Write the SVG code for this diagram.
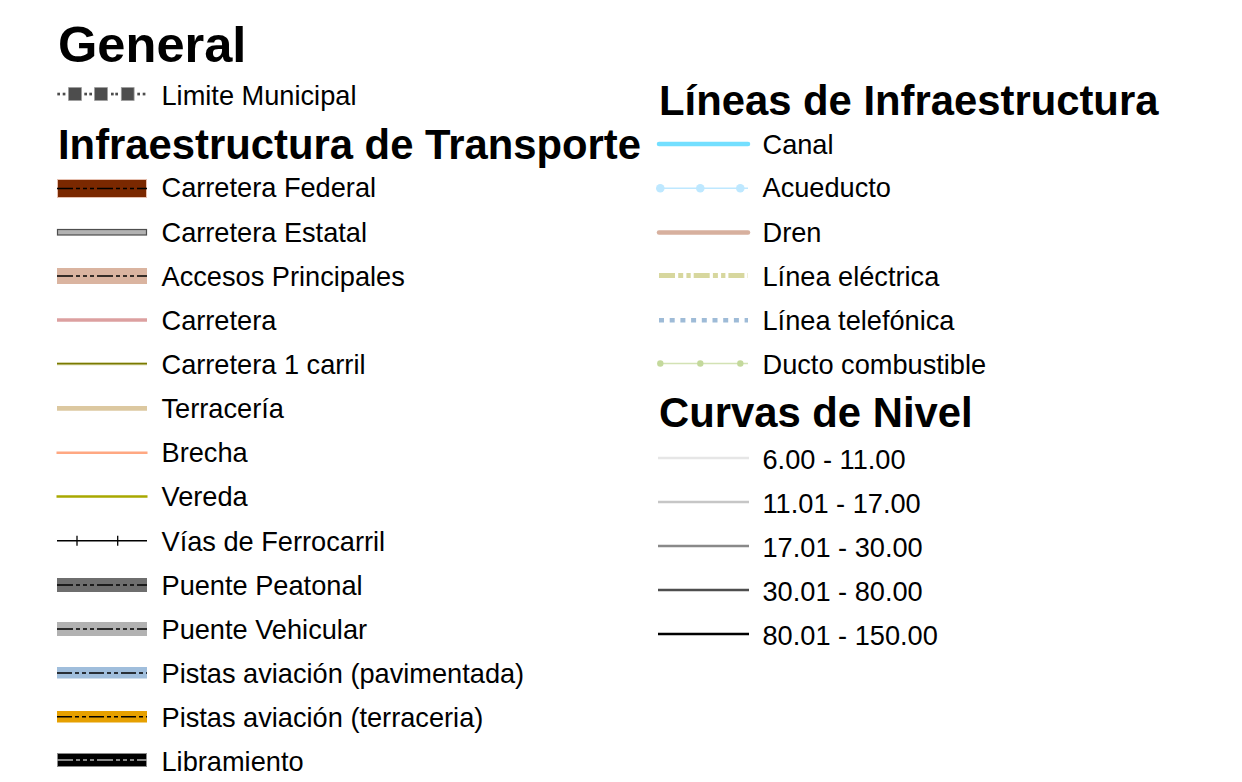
<svg xmlns="http://www.w3.org/2000/svg" width="1242" height="782" viewBox="0 0 1242 782">
<style>
text{font-family:"Liberation Sans",Arial,Helvetica,sans-serif;fill:#000}
.h{font-weight:bold;font-size:41.8px}
.g{font-weight:bold;font-size:50.6px}
.t{font-size:27.2px}
.dash{stroke:#000;stroke-width:1.6;stroke-dasharray:16 3 4 3 4 3 4 3;fill:none}
.dashp{stroke:#000;stroke-width:1.6;stroke-dasharray:15 3 4 3 4 3;fill:none}
</style>
<rect width="1242" height="782" fill="#fff"/>
<text class="g" x="58" y="62">General</text>
<g id="limite-municipal">
<g fill="#4d4d4d">
<rect x="57.3" y="92.7" width="2.7" height="2.7"/><rect x="62.7" y="92.7" width="2.7" height="2.7"/>
<rect x="84.3" y="92.7" width="2.7" height="2.7"/><rect x="89.3" y="92.7" width="2.7" height="2.7"/>
<rect x="111" y="92.7" width="2.7" height="2.7"/><rect x="115.3" y="92.7" width="2.7" height="2.7"/>
<rect x="137.3" y="92.7" width="2.7" height="2.7"/><rect x="142.7" y="92.7" width="2.7" height="2.7"/>
</g>
<g fill="#4d4d4d" stroke="#9a9a9a" stroke-width="0.8">
<rect x="68.6" y="87.6" width="12.8" height="12.8"/>
<rect x="94.6" y="87.6" width="12.8" height="12.8"/>
<rect x="121.3" y="87.6" width="12.8" height="12.8"/>
</g>
<text class="t" x="161.5" y="105">Limite Municipal</text>
</g>
<text class="h" x="58" y="159">Infraestructura de Transporte</text>
<g id="carretera-federal">
<rect x="57.5" y="179.5" width="89" height="18" fill="#7a2800" stroke="#e6c0b0" stroke-width="1"/>
<line class="dash" x1="57" y1="188.5" x2="147" y2="188.5"/>
<text class="t" x="161.5" y="197">Carretera Federal</text>
</g>
<g id="carretera-estatal">
<rect x="57.5" y="229.5" width="89" height="5.5" fill="#b2b2b2" stroke="#4e4e4e" stroke-width="1.2"/>
<text class="t" x="161.5" y="242">Carretera Estatal</text>
</g>
<g id="accesos-principales">
<rect x="57" y="268" width="90" height="16" fill="#dab4a0"/>
<line class="dash" x1="57" y1="276" x2="147" y2="276"/>
<text class="t" x="161.5" y="286">Accesos Principales</text>
</g>
<g id="carretera">
<line x1="57" y1="320" x2="147" y2="320" stroke="#dca0a0" stroke-width="3.6"/>
<text class="t" x="161.5" y="330">Carretera</text>
</g>
<g id="carretera-1-carril">
<line x1="57" y1="364" x2="147" y2="364" stroke="#e8e8c8" stroke-width="3"/>
<line x1="57" y1="363.7" x2="147" y2="363.7" stroke="#7a7a00" stroke-width="1.8"/>
<text class="t" x="161.5" y="374">Carretera 1 carril</text>
</g>
<g id="terraceria">
<line x1="57" y1="408.3" x2="147" y2="408.3" stroke="#dcc8a0" stroke-width="4.8"/>
<text class="t" x="161.5" y="418">Terracería</text>
</g>
<g id="brecha">
<line x1="56.5" y1="452.7" x2="147.5" y2="452.7" stroke="#ffa882" stroke-width="2.4"/>
<text class="t" x="161.5" y="462">Brecha</text>
</g>
<g id="vereda">
<line x1="56.5" y1="496.5" x2="147.5" y2="496.5" stroke="#a8a800" stroke-width="2.4"/>
<text class="t" x="161.5" y="506">Vereda</text>
</g>
<g id="vias-ferrocarril">
<line x1="57" y1="540.7" x2="147" y2="540.7" stroke="#000" stroke-width="1.5"/>
<line x1="77" y1="535.7" x2="77" y2="545.7" stroke="#000" stroke-width="1.3"/>
<line x1="117.7" y1="535.7" x2="117.7" y2="545.7" stroke="#000" stroke-width="1.3"/>
<text class="t" x="161.5" y="551">Vías de Ferrocarril</text>
</g>
<g id="puente-peatonal">
<rect x="57" y="578" width="90" height="14" fill="#6e6e6e"/>
<line class="dash" x1="57" y1="585" x2="147" y2="585"/>
<text class="t" x="161.5" y="595">Puente Peatonal</text>
</g>
<g id="puente-vehicular">
<rect x="57" y="622" width="90" height="14" fill="#b2b2b2"/>
<line class="dash" x1="57" y1="629" x2="147" y2="629"/>
<text class="t" x="161.5" y="639">Puente Vehicular</text>
</g>
<g id="pistas-pavimentada">
<rect x="57" y="667" width="90" height="11.5" fill="#a0bedc"/>
<line class="dashp" x1="57" y1="673" x2="147" y2="673"/>
<text class="t" x="161.5" y="683">Pistas aviación (pavimentada)</text>
</g>
<g id="pistas-terraceria">
<rect x="57" y="711" width="90" height="11.5" fill="#e6a000"/>
<line class="dashp" x1="57" y1="716.7" x2="147" y2="716.7"/>
<text class="t" x="161.5" y="727">Pistas aviación (terraceria)</text>
</g>
<g id="libramiento">
<rect x="57.5" y="753.5" width="89" height="13" fill="#000" stroke="#8a8a8a" stroke-width="1"/>
<line x1="57" y1="760" x2="147" y2="760" stroke="#b4b4b4" stroke-width="1.6" stroke-dasharray="16 3 4 3 4 3 4 3"/>
<text class="t" x="161.5" y="771">Libramiento</text>
</g>
<text class="h" x="659" y="115">Líneas de Infraestructura</text>
<g id="canal">
<line x1="659" y1="144" x2="748" y2="144" stroke="#73dfff" stroke-width="4.5" stroke-linecap="round"/>
<text class="t" x="762.5" y="154">Canal</text>
</g>
<g id="acueducto">
<line x1="660" y1="188.3" x2="748" y2="188.3" stroke="#bee8ff" stroke-width="1.6"/>
<g fill="#bee8ff"><circle cx="660.3" cy="188.3" r="4.3"/><circle cx="700.3" cy="188.3" r="4.3"/><circle cx="740.3" cy="188.3" r="4.3"/></g>
<text class="t" x="762.5" y="197">Acueducto</text>
</g>
<g id="dren">
<line x1="659" y1="232.5" x2="748" y2="232.5" stroke="#d7b09e" stroke-width="4.5" stroke-linecap="round"/>
<text class="t" x="762.5" y="242">Dren</text>
</g>
<g id="linea-electrica">
<line x1="659" y1="275.5" x2="748" y2="275.5" stroke="#d7d79e" stroke-width="5" stroke-dasharray="16 3.2 5 3.2 4.3 3"/>
<text class="t" x="762.5" y="286">Línea eléctrica</text>
</g>
<g id="linea-telefonica">
<line x1="659" y1="320.2" x2="748" y2="320.2" stroke="#9ebbd7" stroke-width="4.6" stroke-dasharray="5 5.7"/>
<text class="t" x="762.5" y="330">Línea telefónica</text>
</g>
<g id="ducto-combustible">
<line x1="660" y1="363.5" x2="748" y2="363.5" stroke="#d3e2b4" stroke-width="1.6"/>
<g fill="#c4d99c"><circle cx="660.3" cy="363.5" r="3.2"/><circle cx="700.3" cy="363.5" r="3.2"/><circle cx="740.3" cy="363.5" r="3.2"/></g>
<text class="t" x="762.5" y="374">Ducto combustible</text>
</g>
<text class="h" x="659" y="427">Curvas de Nivel</text>
<g id="curva-1">
<line x1="658" y1="458" x2="749" y2="458" stroke="#e6e6e6" stroke-width="2.4"/>
<text class="t" x="762.5" y="469">6.00 - 11.00</text>
</g>
<g id="curva-2">
<line x1="658" y1="502" x2="749" y2="502" stroke="#c6c6c6" stroke-width="2.4"/>
<text class="t" x="762.5" y="513">11.01 - 17.00</text>
</g>
<g id="curva-3">
<line x1="658" y1="546" x2="749" y2="546" stroke="#898989" stroke-width="2.4"/>
<text class="t" x="762.5" y="557">17.01 - 30.00</text>
</g>
<g id="curva-4">
<line x1="658" y1="590" x2="749" y2="590" stroke="#4e4e4e" stroke-width="2.4"/>
<text class="t" x="762.5" y="601">30.01 - 80.00</text>
</g>
<g id="curva-5">
<line x1="658" y1="634" x2="749" y2="634" stroke="#000" stroke-width="2.4"/>
<text class="t" x="762.5" y="645">80.01 - 150.00</text>
</g>
</svg>
